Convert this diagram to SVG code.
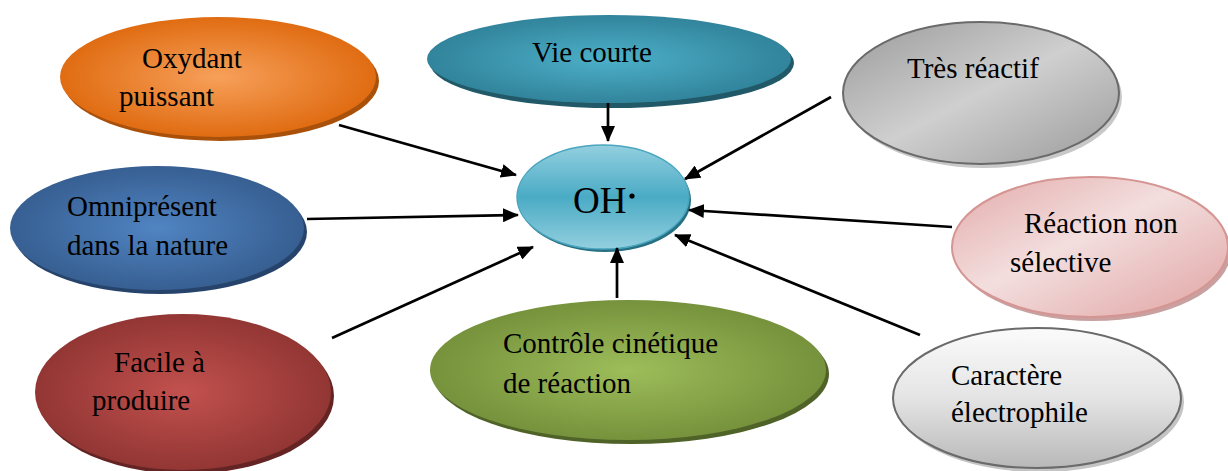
<svg xmlns="http://www.w3.org/2000/svg" width="1228" height="471" viewBox="0 0 1228 471">
<style>
text{font-family:"Liberation Serif","Times New Roman",serif;font-size:29px;fill:#000}
.con line{stroke:#000;stroke-width:2.7}
</style>
<defs>
<marker id="ah" viewBox="0 0 16 14" refX="15" refY="7" markerWidth="16" markerHeight="14" markerUnits="userSpaceOnUse" orient="auto">
<path d="M0,0 L16,7 L0,14 Z" fill="#000"/>
</marker>
<radialGradient id="gOr" cx="0.5" cy="0.5" r="0.5"><stop offset="0" stop-color="#f7a05a"/><stop offset="1" stop-color="#e06c12"/></radialGradient>
<radialGradient id="gTe" cx="0.5" cy="0.5" r="0.5"><stop offset="0" stop-color="#4db0c9"/><stop offset="1" stop-color="#31849b"/></radialGradient>
<radialGradient id="gBl" cx="0.5" cy="0.5" r="0.5"><stop offset="0" stop-color="#5084c2"/><stop offset="1" stop-color="#375f92"/></radialGradient>
<radialGradient id="gRe" cx="0.5" cy="0.5" r="0.5"><stop offset="0" stop-color="#c2514e"/><stop offset="1" stop-color="#923634"/></radialGradient>
<radialGradient id="gGr" cx="0.5" cy="0.5" r="0.5"><stop offset="0" stop-color="#9dbd5a"/><stop offset="1" stop-color="#76923c"/></radialGradient>
<linearGradient id="gOH" x1="0" y1="0" x2="0" y2="1"><stop offset="0" stop-color="#93cfdf"/><stop offset="0.5" stop-color="#4aabc5"/><stop offset="1" stop-color="#93cfdf"/></linearGradient>
<linearGradient id="gGy" x1="0" y1="0" x2="1" y2="1"><stop offset="0" stop-color="#9a9a9a"/><stop offset="0.5" stop-color="#cfcfcf"/><stop offset="1" stop-color="#9a9a9a"/></linearGradient>
<linearGradient id="gPk" x1="0" y1="0" x2="1" y2="1"><stop offset="0" stop-color="#e3aaa9"/><stop offset="0.45" stop-color="#f3dede"/><stop offset="1" stop-color="#e0a3a2"/></linearGradient>
<linearGradient id="gLg" x1="0" y1="0" x2="0" y2="1"><stop offset="0" stop-color="#fbfbfb"/><stop offset="0.5" stop-color="#e4e4e4"/><stop offset="1" stop-color="#b8b8b8"/></linearGradient>
</defs>

<g id="oxydant">
<ellipse cx="221" cy="81" rx="158" ry="60" fill="#a9510b"/>
<ellipse cx="218" cy="77" rx="158" ry="60" fill="url(#gOr)"/>
<text x="142" y="68">Oxydant</text>
<text x="119" y="106">puissant</text>
</g>

<g id="vie-courte">
<ellipse cx="612" cy="63" rx="182" ry="45" fill="#215968"/>
<ellipse cx="609" cy="59" rx="182" ry="44" fill="url(#gTe)"/>
<text x="532" y="62">Vie courte</text>
</g>

<g id="tres-reactif">
<ellipse cx="984" cy="97" rx="138" ry="71" fill="#c8c8c8"/>
<ellipse cx="981" cy="93" rx="138" ry="71" fill="url(#gGy)" stroke="#6a6a6a" stroke-width="2"/>
<text x="907" y="78">Très réactif</text>
</g>

<g id="omnipresent">
<ellipse cx="160" cy="232" rx="147" ry="62" fill="#26446b"/>
<ellipse cx="157" cy="228" rx="147" ry="62" fill="url(#gBl)"/>
<text x="67" y="216">Omniprésent</text>
<text x="67" y="255">dans la nature</text>
</g>

<g id="oh">
<ellipse cx="605" cy="200" rx="86" ry="52" fill="#276f82"/>
<ellipse cx="603" cy="197" rx="86" ry="52" fill="url(#gOH)" stroke="#4aa6bf" stroke-width="1.5"/>
<text x="573" y="213" style="font-size:37px">OH</text>
<circle cx="632" cy="196" r="2.6" fill="#000"/>
</g>

<g id="reaction-non-selective">
<ellipse cx="1093" cy="251" rx="138" ry="70" fill="#c9a0a0"/>
<ellipse cx="1090" cy="247" rx="138" ry="70" fill="url(#gPk)" stroke="#d49593" stroke-width="2"/>
<text x="1024" y="233">Réaction non</text>
<text x="1010" y="272">sélective</text>
</g>

<g id="facile">
<ellipse cx="186" cy="396" rx="148" ry="78" fill="#632423"/>
<ellipse cx="183" cy="392" rx="148" ry="78" fill="url(#gRe)"/>
<text x="114" y="372">Facile à</text>
<text x="92" y="410">produire</text>
</g>

<g id="controle">
<ellipse cx="631" cy="374" rx="198" ry="70" fill="#4f6228"/>
<ellipse cx="628" cy="370" rx="198" ry="70" fill="url(#gGr)"/>
<text x="503" y="353">Contrôle cinétique</text>
<text x="503" y="393">de réaction</text>
</g>

<g id="caractere">
<ellipse cx="1040" cy="402" rx="144" ry="70" fill="#c4c4c4"/>
<ellipse cx="1037" cy="398" rx="144" ry="70" fill="url(#gLg)" stroke="#6a6a6a" stroke-width="2"/>
<text x="951" y="385">Caractère</text>
<text x="951" y="422">électrophile</text>
</g>

<g id="connectors" class="con">
<line x1="339" y1="125" x2="516" y2="175" marker-end="url(#ah)"/>
<line x1="307" y1="219" x2="518" y2="215" marker-end="url(#ah)"/>
<line x1="332" y1="338" x2="533" y2="247" marker-end="url(#ah)"/>
<line x1="608" y1="103" x2="608" y2="141" marker-end="url(#ah)"/>
<line x1="617" y1="298" x2="617" y2="248" marker-end="url(#ah)"/>
<line x1="831" y1="97" x2="685" y2="179" marker-end="url(#ah)"/>
<line x1="952" y1="227" x2="689" y2="210" marker-end="url(#ah)"/>
<line x1="920" y1="335" x2="675" y2="235" marker-end="url(#ah)"/>
</g>
</svg>
